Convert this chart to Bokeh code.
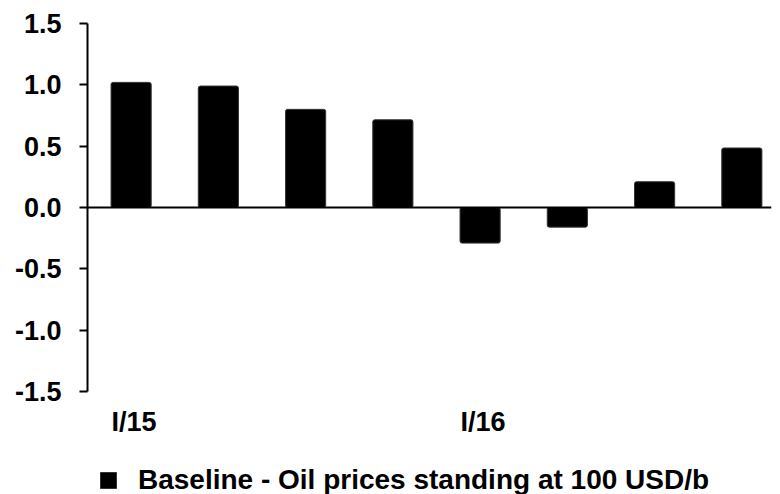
from bokeh.plotting import figure
from bokeh.models import Range1d, FixedTicker, Span, Legend, LegendItem, ColumnDataSource
from bokeh.core.properties import value
from bokeh.embed import file_html
from bokeh.resources import INLINE

quarters = ["I/15", "II/15", "III/15", "IV/15", "I/16", "II/16", "III/16", "IV/16"]
baseline = [1.02, 0.99, 0.80, 0.715, -0.29, -0.16, 0.21, 0.485]
label_pos = [0, 4]
label_text = ["I/15", "I/16"]
y_ticks = [-1.5, -1.0, -0.5, 0.0, 0.5, 1.0, 1.5]
series_name = "Baseline - Oil prices standing at 100 USD/b"

FONT = "Liberation Sans"
FS = "27px"
FS_LEG = "28px"

src = ColumnDataSource(dict(x=list(range(len(quarters))), q=quarters, v=baseline))
lab = ColumnDataSource(dict(x=label_pos, y=[y_ticks[0]] * len(label_pos), t=label_text))

# frame: 23px top to 494px bottom; 122.67 px per unit
y_bottom = 1.5 - 471 / 122.67
p = figure(width=780, height=494, output_backend="svg", toolbar_location=None,
           x_range=Range1d(-0.5, 7.34), y_range=Range1d(y_bottom, 1.5),
           min_border_left=87, min_border_right=9, min_border_top=23, min_border_bottom=0)
p.outline_line_color = None
p.xgrid.visible = False
p.ygrid.visible = False
p.xaxis.visible = False
p.background_fill_color = "white"
p.border_fill_color = "white"

r = p.vbar(x="x", top="v", bottom=0, width=0.46, source=src,
           fill_color="black", line_color="#333333", line_width=1, border_radius=2)

p.add_layout(Span(location=0, dimension="width", line_color="black", line_width=2))

p.text(x="x", y="y", text="t", source=lab, text_align="center", text_baseline="top",
       y_offset=15, x_offset=3, text_font=value(FONT), text_font_style="bold",
       text_font_size=FS, text_color="black")

ya = p.yaxis[0]
ya.ticker = FixedTicker(ticks=y_ticks)
ya.bounds = (y_ticks[0], y_ticks[-1])
ya.major_label_overrides = {t: f"{t:.1f}" for t in y_ticks}
ya.axis_line_width = 2
ya.major_tick_line_width = 2
ya.major_tick_out = 8
ya.major_tick_in = 0
ya.minor_tick_line_color = None
ya.major_label_standoff = 18
ya.major_label_text_font = FONT
ya.major_label_text_font_style = "bold"
ya.major_label_text_font_size = FS
ya.major_label_text_color = "black"

legend = Legend(items=[LegendItem(label=series_name, renderers=[r])],
                location=(11, -2), orientation="horizontal",
                glyph_width=20, glyph_height=20, label_standoff=20,
                padding=0, margin=0, border_line_color=None, background_fill_alpha=0,
                label_text_font=FONT, label_text_font_style="bold",
                label_text_font_size=FS_LEG, label_text_color="black")
p.add_layout(legend, "center")

open("out.html", "w").write(file_html(p, INLINE))
